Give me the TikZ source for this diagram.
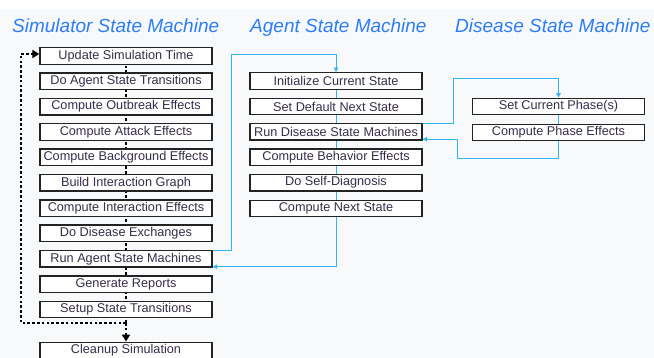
\documentclass[tikz,border=0pt]{standalone}
\usepackage{fontspec}
\setmainfont{Liberation Sans}
\usetikzlibrary{arrows.meta}
\pgfdeclarelayer{back}
\pgfdeclarelayer{bg}
\pgfsetlayers{back,bg,main}
\definecolor{bgc}{RGB}{247,249,250}
\definecolor{ttl}{RGB}{45,125,250}
\definecolor{lnk}{RGB}{50,180,240}
\definecolor{txt}{RGB}{55,45,75}
\definecolor{edge}{RGB}{35,35,35}
\begin{document}
\begin{tikzpicture}[x=1pt,y=-1pt,
  box/.style={draw=edge, line width=1.4pt, fill=white, minimum width=172pt, minimum height=16.5pt, inner sep=0pt, text=txt, font=\fontsize{12.7}{14}\selectfont},
  ttlst/.style={text=ttl, font=\fontsize{19}{22}\selectfont\itshape, inner sep=0pt, anchor=base west},
  dots/.style={line width=2.8pt, dash pattern=on 2.6pt off 2.2pt, black},
  flow/.style={lnk, line width=1pt},
  dtip/.style={-{Triangle[length=7pt,width=8pt]}},
  btip/.style={-{Triangle[length=4.5pt,width=4.5pt]}}]
\useasboundingbox (0,0) rectangle (654,358);
\begin{pgfonlayer}{back}
\fill[bgc] (0,0) rectangle (654,358);
\fill[white] (0,0) rectangle (654,9);
\end{pgfonlayer}
% titles
\node[ttlst] (t1) at (12,32.5) {Simulator State Machine};
\node[ttlst] (t2) at (250,32.5) {Agent State Machine};
\node[ttlst] (t3) at (455,32.5) {Disease State Machine};
% simulator column
\node[box] (s1) at (126,56) {Update Simulation Time};
\node[box] (s2) at (126,81.35) {Do Agent State Transitions};
\node[box] (s3) at (126,106.7) {Compute Outbreak Effects};
\node[box] (s4) at (126,132.05) {Compute Attack Effects};
\node[box] (s5) at (126,157.4) {Compute Background Effects};
\node[box] (s6) at (126,182.75) {Build Interaction Graph};
\node[box] (s7) at (126,208.1) {Compute Interaction Effects};
\node[box] (s8) at (126,233.45) {Do Disease Exchanges};
\node[box] (s9) at (126,258.8) {Run Agent State Machines};
\node[box] (s10) at (126,284.15) {Generate Reports};
\node[box] (s11) at (126,309.5) {Setup State Transitions};
\node[box] (cl) at (126,350.5) {Cleanup Simulation};
% agent column
\node[box] (a1) at (336,81) {Initialize Current State};
\node[box] (a2) at (336,106.5) {Set Default Next State};
\node[box] (a3) at (336,131.8) {Run Disease State Machines};
\node[box] (a4) at (336,157.4) {Compute Behavior Effects};
\node[box] (a5) at (336,182.6) {Do Self-Diagnosis};
\node[box] (a6) at (336,208.5) {Compute Next State};
% disease column
\node[box] (d1) at (558.5,106.5) {Set Current Phase(s)};
\node[box] (d2) at (558.5,132.5) {Compute Phase Effects};
\coordinate (turn) at (126,323);
\begin{pgfonlayer}{bg}
\draw[dots] (s1.center) -- (turn);
\draw[dots,dtip] (turn) -- (cl.north);
\draw[dots,dtip] (turn) -- (21,323) -- (21,54) -- ([yshift=2pt]s1.west);
\draw[flow,btip] ([yshift=-0.5pt]s9.north east) -| (231,55) -| (a1.north);
\draw[flow,btip] (a1.north) |- ([yshift=1pt]s9.south east);
\draw[flow,btip] ([yshift=-0.5pt]a3.north east) -| (453,79) -| (d1.north);
\draw[flow,btip] (d1.north) |- (457,159) |- ([yshift=1.5pt]a3.south east);
\end{pgfonlayer}
\end{tikzpicture}
\end{document}
